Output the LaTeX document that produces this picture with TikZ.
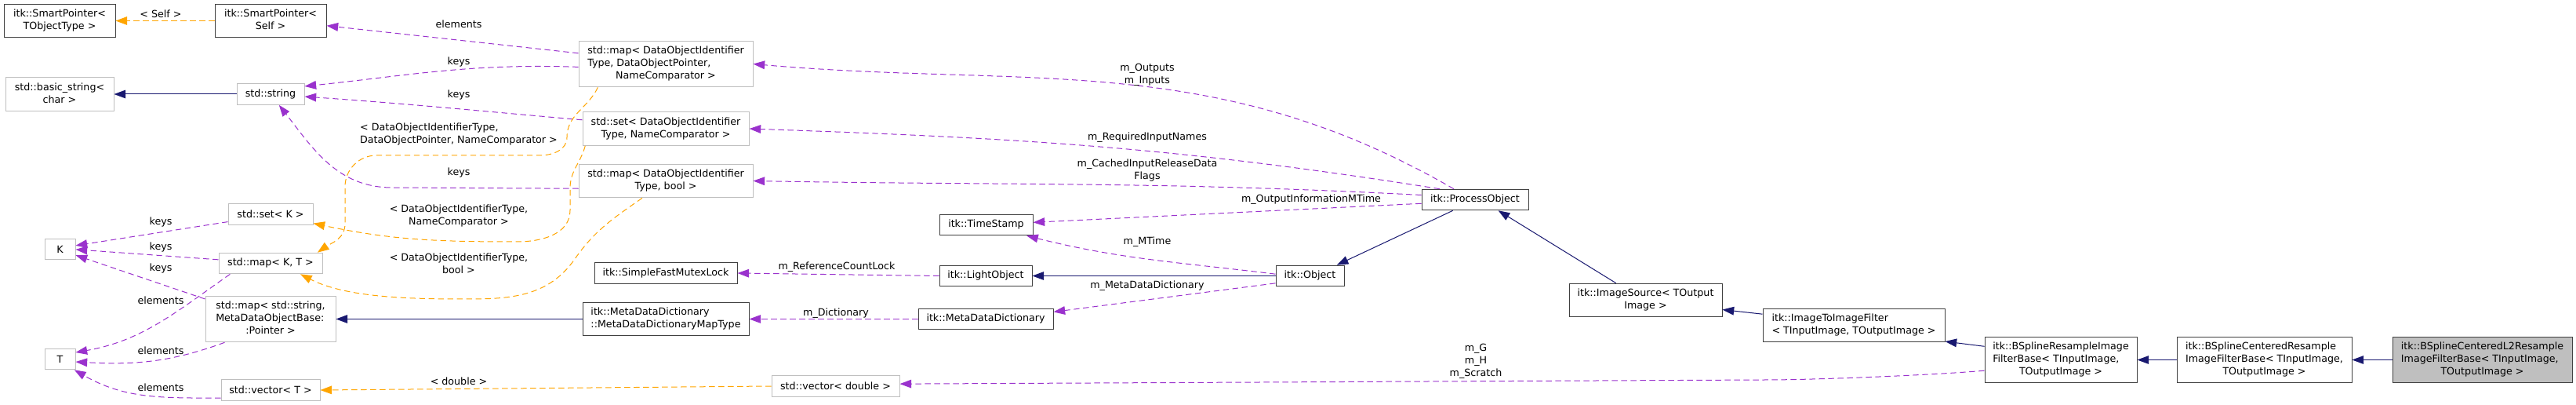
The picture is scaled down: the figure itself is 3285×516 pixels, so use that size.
\documentclass[tikz,border=0pt]{standalone}
\usepackage{fontspec}
\setmainfont{DejaVu Sans}
\usepackage{xcolor}
\usepackage{tikz}
\usetikzlibrary{arrows.meta}

\definecolor{collab}{HTML}{9A32CD}
\definecolor{tmpl}{HTML}{FFA500}
\definecolor{inherit}{HTML}{191970}
\definecolor{extline}{HTML}{BFBFBF}
\definecolor{clsline}{HTML}{404040}
\definecolor{selffill}{HTML}{BFBFBF}

\newcommand{\twol}[2]{\begin{tabular}{@{}l@{}}#1\\\multicolumn{1}{@{}c@{}}{#2}\end{tabular}}
\newcommand{\threel}[3]{\begin{tabular}{@{}l@{}}#1\\#2\\\multicolumn{1}{@{}c@{}}{#3}\end{tabular}}

\begin{document}
\begin{tikzpicture}[x=0.75pt,y=-0.75pt,font=\fontsize{9.5}{12}\selectfont,
  >={Triangle[length=11pt,width=8pt]},
  cls/.style={draw=clsline,line width=0.75pt,inner sep=1pt},
  ext/.style={draw=extline,line width=0.75pt,inner sep=1pt},
  h1/.style={minimum height=20pt},
  h2/.style={minimum height=32pt},
  h3/.style={minimum height=44pt},
  uses/.style={->,collab,line width=0.75pt,dash pattern=on 5.5pt off 3.5pt},
  inst/.style={->,tmpl,line width=0.75pt,dash pattern=on 5.5pt off 3.5pt},
  inh/.style={->,inherit,line width=0.75pt},
  lbl/.style={inner sep=0pt,align=center}]
  \useasboundingbox (0,0) rectangle (3285,516);
  % classes
  \node[cls,h2,minimum width=106.5pt] (spT) at (76,26.5) {\twol{itk::SmartPointer<}{TObjectType >}};
  \node[cls,h2,minimum width=106.5pt] (spS) at (345,26.5) {\twol{itk::SmartPointer<}{Self >}};
  \node[ext,h2,minimum width=103.5pt] (bstr) at (76,120) {\twol{std::basic\_string<}{char >}};
  \node[ext,h1,minimum width=64.5pt] (str) at (345,120) {std::string};
  \node[ext,h1,minimum width=81pt] (setK) at (345,273) {std::set< K >};
  \node[ext,h1,minimum width=29.25pt] (K) at (76.5,317.5) {K};
  \node[ext,h1,minimum width=99pt] (mapKT) at (345,335.5) {std::map< K, T >};
  \node[ext,h3,minimum width=124.5pt] (mapSM) at (345,406.5) {\threel{std::map< std::string,}{MetaDataObjectBase:}{:Pointer >}};
  \node[ext,h1,minimum width=29.25pt] (T) at (76.5,457.5) {T};
  \node[ext,h1,minimum width=94.5pt] (vecT) at (345,497) {std::vector< T >};
  \node[ext,h3,minimum width=166.5pt] (mapDOP) at (849,81.5) {\threel{std::map< DataObjectIdentifier}{Type, DataObjectPointer,}{NameComparator >}};
  \node[ext,h2,minimum width=159pt] (setDO) at (849,164) {\twol{std::set< DataObjectIdentifier}{Type, NameComparator >}};
  \node[ext,h2,minimum width=166.5pt] (mapDOb) at (849,230.5) {\twol{std::map< DataObjectIdentifier}{Type, bool >}};
  \node[cls,h1,minimum width=136.5pt] (mutex) at (849,348) {itk::SimpleFastMutexLock};
  \node[cls,h2,minimum width=159pt] (mddmt) at (849,406.5) {\twol{itk::MetaDataDictionary}{::MetaDataDictionaryMapType}};
  \node[ext,h1,minimum width=122.25pt] (vecD) at (1065.5,492) {std::vector< double >};
  \node[cls,h1,minimum width=89.25pt] (tstamp) at (1257.5,286.5) {itk::TimeStamp};
  \node[cls,h1,minimum width=88.5pt] (light) at (1257,351.5) {itk::LightObject};
  \node[cls,h1,minimum width=129pt] (mdd) at (1257,406.5) {itk::MetaDataDictionary};
  \node[cls,h1,minimum width=65.25pt] (obj) at (1670.5,351.5) {itk::Object};
  \node[cls,h1,minimum width=102pt] (proc) at (1881,254.5) {itk::ProcessObject};
  \node[cls,h2,minimum width=146.25pt] (isrc) at (2098.5,382.5) {\twol{itk::ImageSource< TOutput}{Image >}};
  \node[cls,h2,minimum width=174pt] (itif) at (2364,414.5) {\twol{itk::ImageToImageFilter}{< TInputImage, TOutputImage >}};
  \node[cls,h3,minimum width=145.5pt] (bsr) at (2628,458.5) {\threel{itk::BSplineResampleImage}{FilterBase< TInputImage,}{TOutputImage >}};
  \node[cls,h3,minimum width=167.25pt] (bscr) at (2887.5,458.5) {\threel{itk::BSplineCenteredResample}{ImageFilterBase< TInputImage,}{TOutputImage >}};
  \node[cls,h3,minimum width=171.75pt,fill=selffill] (bscl2) at (3165.5,458.5) {\threel{itk::BSplineCenteredL2Resample}{ImageFilterBase< TInputImage,}{TOutputImage >}};
  % connectors
  \draw[inst] (spS.west) -- (spT.east);
  \draw[uses] (mapDOP.173) -- (spS.-5);
  \draw[uses] (mapDOP.182) to[out=178,in=6] (str.13);
  \draw[uses] (setDO.174) to[out=175,in=-4] (str.-4);
  \draw[uses] (mapDOb.185) -- (500,239) to[out=180,in=-52] (str.-52);
  \draw[inst] (mapDOP.199) to[out=-115,in=90] (723,175) to[out=-90,in=0] (688,198) -- (480,198) to[out=180,in=90] (440,238) -- (440,285) to[out=-90,in=35] (mapKT.13);
  \draw[inst] (setDO.192) to[out=-105,in=90] (727,240) -- (727,268) to[out=-90,in=0] (660,308) to[out=180,in=-12] (setK.-12);
  \draw[inst] (mapDOb.216) to[out=-145,in=55] (733,330) to[out=-125,in=0] (600,381) to[out=180,in=-27,looseness=0.8] (mapKT.-20);
  \draw[uses] (setK.190) -- (K.13);
  \draw[uses] (mapKT.176) -- (K.-1);
  \draw[uses] (mapSM.163) -- (K.-21);
  \draw[uses] (mapKT.195) to[out=-145,in=10] (T.23);
  \draw[uses] (mapSM.207) to[out=-160,in=-3] (T.-10);
  \draw[uses] (vecT.189) to[out=180,in=-30] (T.-37);
  \draw[inh] (str.west) -- (bstr.east);
  \draw[inst] (vecD.west) -- (vecT.east);
  \draw[inh] (mddmt.west) -- (mapSM.east);
  \draw[uses] (light.west) -- (mutex.east);
  \draw[uses] (mdd.west) -- (mddmt.east);
  \draw[inh] (obj.west) -- (light.east);
  \draw[uses] (obj.177) to[out=173,in=-14] (tstamp.-15);
  \draw[uses] (obj.192) -- (mdd.6);
  \draw[inh] (proc.206) -- (obj.22);
  \draw[uses] (proc.153) to[out=150,in=-5] (mapDOP.east);
  \draw[uses] (proc.163) to[out=171,in=-2] (setDO.east);
  \draw[uses] (proc.175) to[out=177,in=-1] (mapDOb.east);
  \draw[uses] (proc.184) -- (tstamp.3);
  \draw[inh] (isrc.150) -- (proc.-25);
  \draw[inh] (itif.173) -- (isrc.-7);
  \draw[inh] (bsr.170) -- (itif.-10);
  \draw[uses] (bsr.188) to[out=185,in=0,looseness=0.6] (2250,484) -- (vecD.2);
  \draw[inh] (bscr.west) -- (bsr.east);
  \draw[inh] (bscl2.west) -- (bscr.east);
  % labels
  \node[lbl] (lself) at (205,18) {< Self >};
  \node[lbl] (lelem1) at (585,31) {elements};
  \node[lbl] (lkeys1) at (585,79) {keys};
  \node[lbl] (lkeys2) at (585,121) {keys};
  \node[lbl] (ldop) at (585,171) {\twol{< DataObjectIdentifierType,}{DataObjectPointer, NameComparator >}};
  \node[lbl] (lkeys3) at (585,220) {keys};
  \node[lbl] (lnc) at (585,275) {< DataObjectIdentifierType,\\NameComparator >};
  \node[lbl] (lbool) at (585,336) {< DataObjectIdentifierType,\\bool >};
  \node[lbl] (lkeys4) at (205,283) {keys};
  \node[lbl] (lkeys5) at (205,315) {keys};
  \node[lbl] (lkeys6) at (205,342) {keys};
  \node[lbl] (lelem2) at (205,383) {elements};
  \node[lbl] (lelem3) at (205,447) {elements};
  \node[lbl] (lelem4) at (205,494) {elements};
  \node[lbl] (ldouble) at (585,486) {< double >};
  \node[lbl] (lrcl) at (1067,340) {m\_ReferenceCountLock};
  \node[lbl] (ldict) at (1066,399) {m\_Dictionary};
  \node[lbl] (lmtime) at (1463,308) {m\_MTime};
  \node[lbl] (lmdd) at (1463,364) {m\_MetaDataDictionary};
  \node[lbl] (loim) at (1672,254) {m\_OutputInformationMTime};
  \node[lbl] (lio) at (1463,95) {m\_Outputs\\m\_Inputs};
  \node[lbl] (lrin) at (1463,175) {m\_RequiredInputNames};
  \node[lbl] (lcir) at (1463,217) {m\_CachedInputReleaseData\\Flags};
  \node[lbl] (lghs) at (1882,460) {m\_G\\m\_H\\m\_Scratch};
\end{tikzpicture}
\end{document}
